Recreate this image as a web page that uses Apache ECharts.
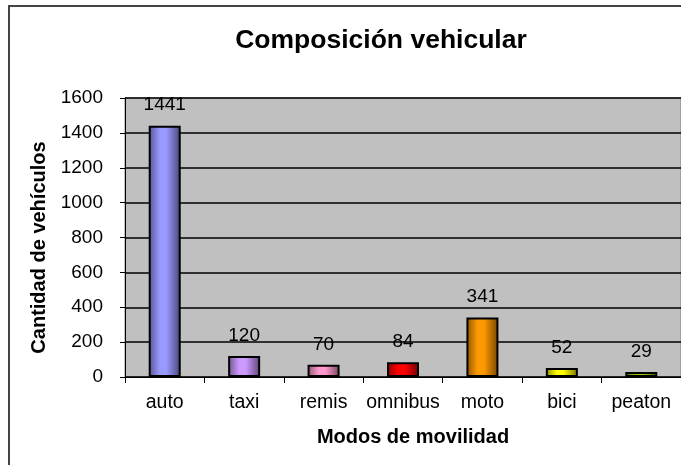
<!DOCTYPE html>
<html>
<head>
<meta charset="utf-8">
<script src="https://cdn.jsdelivr.net/npm/echarts@6/dist/echarts.min.js"></script>
<style>
html,body{margin:0;padding:0;background:#fff;}
#c{width:681px;height:465px;}
</style>
</head>
<body>
<div id="c"></div>
<script>
var categories = ['auto', 'taxi', 'remis', 'omnibus', 'moto', 'bici', 'peaton'];
var values = [1441, 120, 70, 84, 341, 52, 29];
var barColors = ['#9999FF', '#CC99FF', '#FF99CC', '#FF0000', '#FF9900', '#FFFF00', '#99CC00'];
var yTicks = [0, 200, 400, 600, 800, 1000, 1200, 1400, 1600];

function shade(hex, f) {
  var r = parseInt(hex.substr(1,2),16), g = parseInt(hex.substr(3,2),16), b = parseInt(hex.substr(5,2),16);
  r = Math.round(r*f); g = Math.round(g*f); b = Math.round(b*f);
  return 'rgb(' + r + ',' + g + ',' + b + ')';
}
function grad(hex) {
  return new echarts.graphic.LinearGradient(0, 0, 1, 0, [
    {offset: 0, color: shade(hex, 0.55)},
    {offset: 0.35, color: hex},
    {offset: 0.55, color: hex},
    {offset: 1, color: shade(hex, 0.45)}
  ]);
}

var chart = echarts.init(document.getElementById('c'), null, {renderer: 'canvas'});
var font = '"Liberation Sans", Arial, sans-serif';
chart.setOption({
  animation: false,
  backgroundColor: '#fff',
  textStyle: {fontFamily: font},
  title: {
    text: 'Composición vehicular',
    left: 376, top: 22, textAlign: 'center',
    textStyle: {fontFamily: font, fontSize: 26.5, fontWeight: 'bold', color: '#000'}
  },
  graphic: [{
    type: 'rect', silent: true, z: 100,
    shape: {x: 9, y: 6, width: 800, height: 600},
    style: {fill: 'none', stroke: '#444', lineWidth: 2}
  }],
  grid: {left: 125, right: -2, top: 98, bottom: 88, show: true, backgroundColor: '#C0C0C0', borderColor: '#808080', borderWidth: 1},
  xAxis: {
    type: 'category',
    data: categories,
    name: 'Modos de movilidad',
    nameLocation: 'middle',
    nameGap: 50,
    nameTextStyle: {fontFamily: font, fontSize: 20, fontWeight: 'bold', color: '#000', padding: [0, 0, 0, 20]},
    axisLine: {lineStyle: {color: '#000', width: 1}},
    axisTick: {show: true, alignWithLabel: false, length: 6, lineStyle: {color: '#000'}},
    axisLabel: {fontFamily: font, fontSize: 19.5, color: '#000', margin: 16, interval: 0, hideOverlap: false},
    splitLine: {show: false}
  },
  yAxis: {
    type: 'value',
    min: 0, max: 1600, interval: 200,
    name: 'Cantidad de vehículos',
    nameLocation: 'middle',
    nameGap: 70,
    nameTextStyle: {fontFamily: font, fontSize: 20, fontWeight: 'bold', color: '#000', padding: [0, 20, 0, 0]},
    axisLine: {show: true, lineStyle: {color: '#000', width: 1}},
    axisTick: {show: true, length: 5, lineStyle: {color: '#000'}},
    axisLabel: {fontFamily: font, fontSize: 19, color: '#000', margin: 22,
      formatter: function (v) { return yTicks.indexOf(v) >= 0 ? String(v) : ''; }},
    splitLine: {show: true, lineStyle: {color: '#000', width: 1.5}}
  },
  series: [{
    type: 'bar',
    barWidth: 32,
    data: values.map(function (v, i) {
      return {value: v, itemStyle: {color: grad(barColors[i]), borderColor: '#000', borderWidth: 2}};
    }),
    label: {show: true, position: 'top', distance: 11, fontFamily: font, fontSize: 19, color: '#000'}
  }]
});
</script>
</body>
</html>
